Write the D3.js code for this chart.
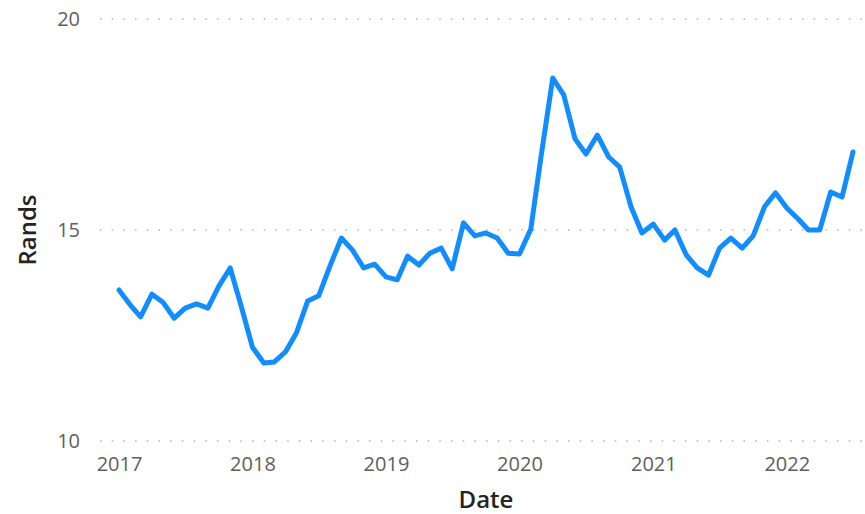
<!DOCTYPE html>
<html>
<head>
<meta charset="utf-8">
<script src="https://cdn.jsdelivr.net/npm/d3@7/dist/d3.min.js"></script>
<style>
  body { margin: 0; background: #fff; }
  .tick text { font-family: "Open Sans", sans-serif; }
</style>
</head>
<body>
<div id="chart"></div>
<script>
// monthly rand values, Jan 2017 .. Jul 2022
const startMonth = '2017-01';
const rands = [
  13.58, 13.22, 12.94, 13.48, 13.29, 12.91, 13.15, 13.25, 13.15, 13.67, 14.10, 13.20,
  12.22, 11.85, 11.87, 12.11, 12.56, 13.32, 13.44, 14.15, 14.81, 14.53, 14.10, 14.19,
  13.89, 13.82, 14.38, 14.17, 14.45, 14.57, 14.08, 15.17, 14.86, 14.93, 14.81, 14.45,
  14.43, 15.02, 16.80, 18.60, 18.20, 17.16, 16.80, 17.25, 16.73, 16.49, 15.55, 14.93,
  15.14, 14.76, 15.00, 14.41, 14.10, 13.93, 14.57, 14.81, 14.57, 14.86, 15.55, 15.88,
  15.52, 15.26, 15.00, 15.00, 15.90, 15.78, 16.85
];
const yTicks = [10, 15, 20];
const xTickYears = [2017, 2018, 2019, 2020, 2021, 2022];

const width = 865, height = 514;
const margin = { top: 19, right: 12, bottom: 73, left: 100 };

const parseMonth = d3.timeParse('%Y-%m');
const start = parseMonth(startMonth);
const data = rands.map((v, i) => ({ date: d3.timeMonth.offset(start, i), value: v }));

const svg = d3.select('#chart').append('svg')
  .attr('width', width)
  .attr('height', height);

const xScale = d3.scaleTime()
  .domain(d3.extent(data, d => d.date))
  .range([119, 853]);

const yScale = d3.scaleLinear()
  .domain([10, 20])
  .range([height - margin.bottom, margin.top]);

// gridlines
svg.append('g')
  .selectAll('line')
  .data(yTicks)
  .join('line')
  .attr('x1', margin.left)
  .attr('x2', width)
  .attr('y1', d => yScale(d))
  .attr('y2', d => yScale(d))
  .attr('stroke', '#c8c6c4')
  .attr('stroke-width', 2)
  .attr('stroke-dasharray', '1.5,10.2');

// y axis
const yAxis = svg.append('g')
  .attr('transform', `translate(${margin.left - 20}, 0)`)
  .call(d3.axisLeft(yScale).tickValues(yTicks).tickSize(0).tickPadding(0));
yAxis.select('.domain').remove();
yAxis.selectAll('text')
  .attr('fill', '#605e5c')
  .style('font-size', '20px');

// x axis
const xAxis = svg.append('g')
  .attr('transform', `translate(0, ${height - margin.bottom + 16})`)
  .call(d3.axisBottom(xScale)
    .tickValues(xTickYears.map(y => new Date(y, 0, 1)))
    .tickFormat(d3.timeFormat('%Y'))
    .tickSize(0).tickPadding(0));
xAxis.select('.domain').remove();
xAxis.selectAll('text')
  .attr('fill', '#605e5c')
  .style('font-size', '20px');

// axis titles
svg.append('text')
  .attr('transform', `translate(36, ${(yScale(10) + yScale(20)) / 2}) rotate(-90)`)
  .attr('text-anchor', 'middle')
  .style('font-family', '"Open Sans", sans-serif')
  .style('font-size', '24px')
  .style('font-weight', 600)
  .attr('fill', '#252423')
  .text('Rands');

svg.append('text')
  .attr('x', 486)
  .attr('y', 508)
  .attr('text-anchor', 'middle')
  .style('font-family', '"Open Sans", sans-serif')
  .style('font-size', '24px')
  .style('font-weight', 600)
  .attr('fill', '#252423')
  .text('Date');

// line
const line = d3.line()
  .x(d => xScale(d.date))
  .y(d => yScale(d.value));

svg.append('path')
  .datum(data)
  .attr('d', line)
  .attr('fill', 'none')
  .attr('stroke', '#118dff')
  .attr('stroke-width', 5)
  .attr('stroke-linejoin', 'round')
  .attr('stroke-linecap', 'round');
</script>
</body>
</html>
